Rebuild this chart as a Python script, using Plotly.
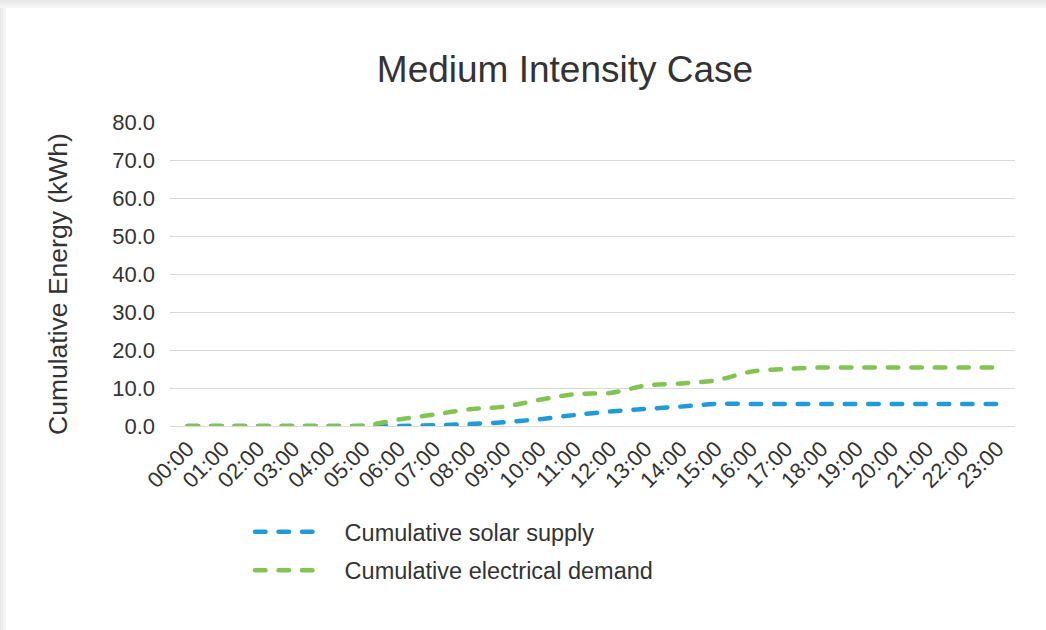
import plotly.graph_objects as go

# Hourly time labels for the category axis
hours = [f"{h:02d}:00" for h in range(24)]

# Cumulative energy series (kWh)
solar_supply = [0.0, 0.0, 0.0, 0.0, 0.0, 0.0, 0.0, 0.2, 0.5, 1.0, 1.8, 2.9,
                3.8, 4.5, 5.1, 5.8, 5.8, 5.8, 5.8, 5.8, 5.8, 5.8, 5.8, 5.8]
electrical_demand = [0.0, 0.0, 0.0, 0.0, 0.0, 0.1, 1.7, 3.0, 4.4, 5.1, 6.9, 8.4,
                     8.7, 10.6, 11.2, 12.0, 14.3, 15.0, 15.4, 15.4, 15.4, 15.4, 15.4, 15.4]

y_ticks = [0, 10, 20, 30, 40, 50, 60, 70, 80]
y_tick_text = [f"{v:.1f}" for v in y_ticks]

BLUE = "#1f9bd7"
GREEN = "#82c451"
TEXT = "#333333"
GRID = "#d9d9d9"
FONT = "Liberation Sans, Arial, sans-serif"
PAD = "\u00a0\u00a0\u00a0"
DASH = "10.5px,13px"

fig = go.Figure()
fig.add_trace(go.Scatter(
    x=hours, y=solar_supply, mode="lines", name=PAD + "Cumulative solar supply",
    line=dict(color=BLUE, width=4.5, dash=DASH, shape="spline", smoothing=0.9),
    legendgroup="a",
))
fig.add_trace(go.Scatter(
    x=hours, y=electrical_demand, mode="lines", name=PAD + "Cumulative electrical demand",
    line=dict(color=GREEN, width=4.5, dash=DASH, shape="spline", smoothing=0.9),
    legendgroup="b",
))

W, H = 1046, 630
ML, MR, MT, MB = 170, 31, 122, 204
PW, PH = W - ML - MR, H - MT - MB


def px_x(px):
    return (px - ML) / PW


def px_y(py):
    return 1 + (MT - py) / PH


# Soft grey shadow along the top and left edges of the card
shadow_steps = ["#e8e8e8", "#ececec", "#f1f1f1", "#f6f6f6"]
for i, color in enumerate(shadow_steps):
    fig.add_shape(type="rect", xref="paper", yref="paper",
                  x0=px_x(0), x1=px_x(W), y0=px_y(2 * i), y1=px_y(2 * i + 2),
                  fillcolor=color, line_width=0, layer="below")
    fig.add_shape(type="rect", xref="paper", yref="paper",
                  x0=px_x(1.5 * i), x1=px_x(1.5 * i + 1.5), y0=px_y(8), y1=px_y(H),
                  fillcolor=color, line_width=0, layer="below")

# Vertical axis title
fig.add_annotation(text="Cumulative Energy (kWh)", xref="paper", yref="paper",
                   x=px_x(58), y=px_y(284), textangle=-90, showarrow=False,
                   xanchor="center", yanchor="middle",
                   font=dict(size=26.5, color=TEXT, family=FONT))

fig.update_layout(
    width=W, height=H,
    margin=dict(l=ML, r=MR, t=MT, b=MB, autoexpand=False),
    paper_bgcolor="white", plot_bgcolor="white",
    font=dict(family=FONT, color=TEXT),
    title=dict(text="Medium Intensity Case", x=565 / W, xanchor="center", xref="container",
               y=1 - 69 / H, yanchor="middle", yref="container",
               font=dict(size=37, color=TEXT, family=FONT)),
    xaxis=dict(type="category", tickmode="array", tickvals=hours, ticktext=hours,
               range=[-0.5, 23.5], tickangle=-45, tickfont=dict(size=22, color=TEXT),
               showgrid=False, showline=True, linecolor=GRID, linewidth=1.3,
               ticks="", automargin=False),
    yaxis=dict(range=[0, 80], tickmode="array", tickvals=y_ticks, ticktext=y_tick_text,
               tickfont=dict(size=22, color=TEXT), showgrid=True, gridcolor=GRID,
               gridwidth=1.3, zeroline=False, showline=False, ticks="", automargin=False,
               ticklabelstandoff=14),
    legend=dict(xref="container", yref="container", x=250 / W, y=1 - 510 / H,
                xanchor="left", yanchor="top", font=dict(size=23.5, color=TEXT),
                itemwidth=65, tracegroupgap=5, bgcolor="rgba(0,0,0,0)"),
    showlegend=True,
)

# Rounded dash ends on the series lines and legend samples
round_caps = """
var s = document.createElement('style');
s.textContent = '.scatterlayer .js-line, .legendlines path { stroke-linecap: round !important; }';
document.head.appendChild(s);
"""

fig.write_html("out.html", post_script=round_caps)
